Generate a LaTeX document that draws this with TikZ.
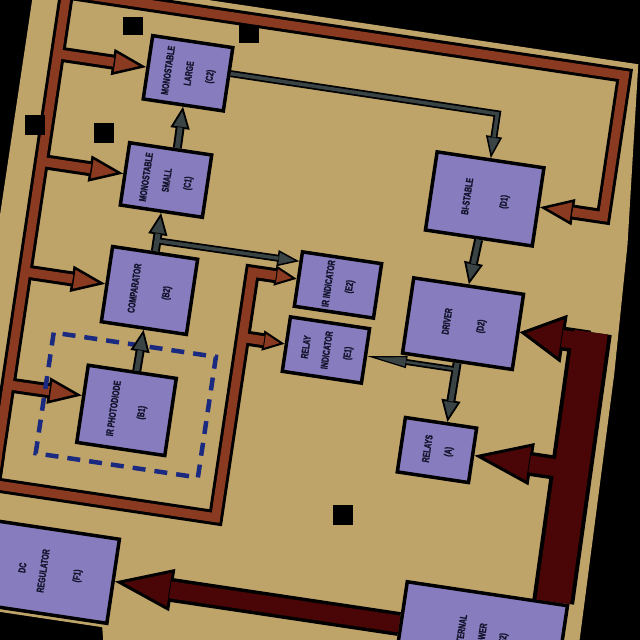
\documentclass[tikz,border=0pt]{standalone}
\usepackage{fontspec}
\usepackage{graphicx}
\usetikzlibrary{arrows.meta}
\newfontfamily\boxfont{Liberation Sans}[FakeStretch=0.7,FakeBold=1.5]
\newcommand\rl[1]{\rotatebox{90}{\begin{tabular}{@{}c@{}}#1\end{tabular}}}
\definecolor{tanc}{HTML}{BFA46A}
\definecolor{boxc}{HTML}{877DBE}
\definecolor{brn}{HTML}{8A3A20}
\definecolor{mrn}{HTML}{4A0606}
\definecolor{gry}{HTML}{3A4444}
\definecolor{nav}{HTML}{1A2A80}
\definecolor{txtc}{HTML}{14142E}
\newcommand\brownnet{%
 \draw[ba] (cbl) -- (ctl) -- (ctr) -- (cr) -- (D1.east);
 \draw[bs] (clv) -- (cbl) -- (cbr) -- (cbu) -- (E2.west);
 \draw[ba] (bC2) -- (C2.west);
 \draw[ba] (bC1) -- (C1.west);
 \draw[ba] (bB2) -- (B2.west);
 \draw[ba] (bB1) -- (B1.170);
 \draw[bs] (bE1) -- (E1.west);
}
\newcommand\graynet{%
 \draw[ga] (B1.84) -- (B2.south);
 \draw[ga] (B2.north) -- (C1.south);
 \draw[ga] (C1.79) -- (C2.south);
 \draw[gt] (j1) -- (E2.157);
 \draw[gt] (C2.8) -- (cCD) -- (D1.north);
 \draw[ga] (D1.south) -- (D2.north);
 \draw[ga] (D2.south) -- (A.78);
 \draw[gs] (j2) -- (E1.east);
}
\newcommand\maroonnet{%
 \draw[ml] (F2.34) -- (mtop);
 \draw[md] (mD) -- (D2.east);
 \draw[ma] (mA) -- (A.east);
 \draw[ma] (F2.west) -- (F1.east);
}
\tikzset{
 box/.style={draw=black, line width=3.5pt, fill=boxc, inner sep=0pt,
   font=\boxfont\bfseries\fontsize{10}{21}\selectfont, text=txtc},
 dash box/.style={draw=nav, line width=4.5pt, dash pattern=on 13pt off 9pt}
}
\begin{document}
\begin{tikzpicture}[x=1pt,y=-1pt,line join=miter]
\path[use as bounding box] (0,0) rectangle (640,640);
\clip (0,0) rectangle (640,640);
\fill[black] (0,0) rectangle (640,640);
\begin{scope}[rotate around={-8.5:(320,320)}, transform shape]
\fill[tanc] (-12,20) -- (597,20) -- (613,200) -- (619,330) -- (626,700) -- (160,700) -- (150,656) -- (-12,656) -- cycle;
% boxes
\node[box, minimum width=81pt, minimum height=64pt] (C2) at (153,95.5) {\rl{MONOSTABLE\\LARGE\\(C2)}};
\node[box, minimum width=83pt, minimum height=63pt] (C1) at (147,204.3) {\rl{MONOSTABLE\\SMALL\\(C1)}};
\node[box, minimum width=86pt, minimum height=76pt] (B2) at (147,316) {\rl{COMPARATOR\\[11pt](B2)}};
\node[box, minimum width=89pt, minimum height=78pt] (B1) at (142,438) {\rl{IR PHOTODIODE\\[7pt](B1)}};
\node[box, minimum width=80pt, minimum height=55pt] (E2) at (332.6,282.7) {\rl{IR INDICATOR\\(E2)}};
\node[box, minimum width=80pt, minimum height=55pt] (E1) at (330.3,348.8) {\rl{RELAY\\INDICATOR\\(E1)}};
\node[box, minimum width=108pt, minimum height=79pt] (D1) at (465,175.9) {\rl{BI-STABLE\\[16pt](D1)}};
\node[box, minimum width=111pt, minimum height=76pt] (D2) at (462,302.5) {\rl{DRIVER\\[13pt](D2)}};
\node[box, minimum width=72pt, minimum height=55pt] (A) at (454.9,431.3) {\rl{RELAYS\\(A)}};
\node[box, minimum width=130pt, minimum height=85pt] (F1) at (89,609) {\rl{DC\\REGULATOR\\[13pt](F1)}};
\node[box, minimum width=162pt, minimum height=86pt] (F2) at (526,609) {\rl{EXTERNAL\\POWER\\(F2)}};
% coordinates
\coordinate (ctl) at (21,33);
\coordinate (ctr) at (585,33);
\coordinate (cr) at (585,175.9);
\coordinate (cbl) at (21,531);
\coordinate (clv) at (21,500);
\coordinate (cbr) at (246,531);
\coordinate (cbu) at (246,282.7);
\coordinate (bC2) at (21,95.5);
\coordinate (bC1) at (21,204.3);
\coordinate (bB2) at (21,316);
\coordinate (bB1) at (21,430.2);
\coordinate (bE1) at (246,348.8);
\coordinate (j1) at (147,265.7);
\coordinate (cCD) at (465,89.8);
\coordinate (j2) at (461.8,348.8);
\coordinate (mtop) at (589.75,292);
\coordinate (mD) at (589.75,302.5);
\coordinate (mA) at (589.75,431.3);
% brown bus: outline pass then colour pass
\tikzset{bl/.style={draw=black,line width=15pt},
 ba/.style={bl,-{Triangle[length=34pt,width=26pt,fill=brn,line width=2.5pt]}},
 bs/.style={bl,-{Triangle[length=22pt,width=20pt,fill=brn,line width=2pt]}}}
\brownnet
\tikzset{bl/.style={draw=brn,line width=9pt},
 ba/.style={bl,shorten >=33pt},
 bs/.style={bl,shorten >=21pt}}
\brownnet
% dashed group
\draw[dash box] (58.5,371.8) rectangle (222.5,493.8);
% grey signal arrows
\tikzset{ga/.style={draw=black,line width=9pt,-{Triangle[length=22pt,width=19pt,fill=gry,line width=1.8pt]}},
 gt/.style={draw=black,line width=7pt,-{Triangle[length=22pt,width=16pt,fill=gry,line width=1.5pt]}},
 gs/.style={draw=black,line width=6pt,-{Triangle[length=40pt,width=12pt,fill=gry,line width=1.2pt]}}}
\graynet
\tikzset{ga/.style={draw=gry,line width=5pt,shorten >=21pt},
 gt/.style={draw=gry,line width=3.5pt,shorten >=21pt},
 gs/.style={draw=gry,line width=2.5pt,shorten >=39pt}}
\graynet
% maroon power arrows
\tikzset{ml/.style={draw=black,line width=42pt},
 ma/.style={draw=black,line width=24pt,-{Triangle[length=58pt,width=42pt,fill=mrn,line width=3pt]}},
 md/.style={draw=black,line width=24pt,-{Triangle[length=45pt,width=48pt,fill=mrn,line width=3pt]}}}
\maroonnet
\tikzset{ml/.style={draw=mrn,line width=34pt},
 ma/.style={draw=mrn,line width=17pt,shorten >=56pt},
 md/.style={draw=mrn,line width=17pt,shorten >=43pt}}
\maroonnet
\end{scope}
% black patches
\fill[black] (123,17) rectangle (143,35);
\fill[black] (239,25) rectangle (259,43);
\fill[black] (25,115) rectangle (45,135);
\fill[black] (94,123) rectangle (114,143);
\fill[black] (333,505) rectangle (353,525);
\end{tikzpicture}
\end{document}
